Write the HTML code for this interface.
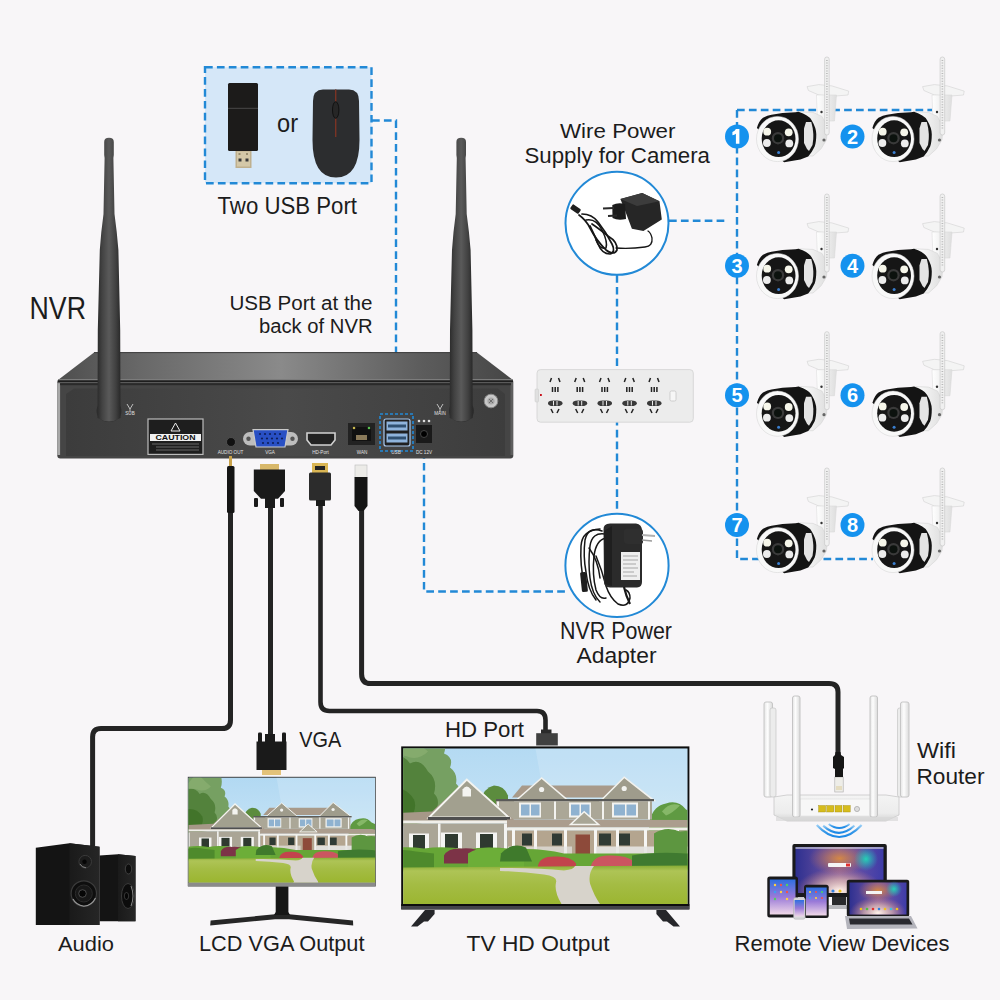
<!DOCTYPE html>
<html><head><meta charset="utf-8"><title>NVR Kit</title>
<style>
html,body{margin:0;padding:0;background:#f8f6f8;}
body{width:1000px;height:1000px;overflow:hidden;}
svg{display:block;}
text{font-family:"Liberation Sans",sans-serif;}
</style></head>
<body>
<svg width="1000" height="1000" viewBox="0 0 1000 1000">
<defs>
  <clipPath id="clipLCD"><rect x="188.6" y="777.8" width="186.5" height="105"/></clipPath>
  <clipPath id="clipTV"><rect x="403.2" y="748.6" width="284.3" height="155.4"/></clipPath>
  <linearGradient id="sky" x1="0" y1="0" x2="0" y2="1">
    <stop offset="0" stop-color="#b0d8f2"/><stop offset="0.3" stop-color="#bcdef4"/><stop offset="0.6" stop-color="#cce5f5"/><stop offset="1" stop-color="#dceaf3"/>
  </linearGradient>
  <linearGradient id="grass" x1="0" y1="0" x2="0" y2="1">
    <stop offset="0" stop-color="#86ac34"/><stop offset="0.1" stop-color="#aec456"/><stop offset="0.35" stop-color="#a4bc44"/><stop offset="0.7" stop-color="#9cb632"/><stop offset="1" stop-color="#a0b838"/>
  </linearGradient>
  <linearGradient id="nvrtop" x1="0" y1="0" x2="1" y2="0">
    <stop offset="0" stop-color="#4e4e4e"/><stop offset="0.18" stop-color="#686868"/><stop offset="0.49" stop-color="#8a8a8a"/><stop offset="0.8" stop-color="#5c5c5c"/><stop offset="1" stop-color="#464646"/>
  </linearGradient>
  <linearGradient id="ant" x1="0" y1="0" x2="1" y2="0">
    <stop offset="0" stop-color="#2c2c2c"/><stop offset="0.2" stop-color="#424242"/><stop offset="0.5" stop-color="#5a5a5a"/><stop offset="0.8" stop-color="#404040"/><stop offset="1" stop-color="#282828"/>
  </linearGradient>
  <linearGradient id="wht" x1="0" y1="0" x2="1" y2="0">
    <stop offset="0" stop-color="#ffffff"/><stop offset="1" stop-color="#dedede"/>
  </linearGradient>
  <linearGradient id="dev" x1="0" y1="0" x2="1" y2="0">
    <stop offset="0" stop-color="#2e3090"/><stop offset="0.5" stop-color="#7a5aa4"/><stop offset="1" stop-color="#3e3ca8"/>
  </linearGradient>
  <radialGradient id="devglow" cx="0.5" cy="0.95" r="0.5">
    <stop offset="0" stop-color="#fff4ec" stop-opacity="1"/><stop offset="0.5" stop-color="#f4c8b0" stop-opacity="0.6"/><stop offset="1" stop-color="#e08070" stop-opacity="0"/>
  </radialGradient>
  <radialGradient id="devwarm" cx="0.5" cy="0.25" r="0.35">
    <stop offset="0" stop-color="#d88a40" stop-opacity="0.95"/><stop offset="1" stop-color="#c07060" stop-opacity="0"/>
  </radialGradient>
  <radialGradient id="devteal" cx="0.5" cy="0.5" r="0.5">
    <stop offset="0" stop-color="#20d8b8" stop-opacity="0.95"/><stop offset="1" stop-color="#20c0c0" stop-opacity="0"/>
  </radialGradient>
  <linearGradient id="tab" x1="0" y1="0" x2="0" y2="1">
    <stop offset="0" stop-color="#2f6fe0"/><stop offset="0.5" stop-color="#9a7ad8"/><stop offset="1" stop-color="#f0d8e8"/>
  </linearGradient>

  <!-- House scene in TV-screen coords (0..283 x 0..154.5), drawn with margins -->
  <g id="scene">
    <rect x="-20" y="-20" width="330" height="185" fill="url(#sky)"/>
    <path d="M128,-20 L310,-20 L310,80 L146,80 Z" fill="#ffffff" opacity="0.16"/>
    <!-- trees left -->
    <path d="M-20,-20 L38,-20 Q44,-8 40,4 Q50,8 46,18 Q54,24 52,34 Q60,42 54,52 L40,70 L-20,80 Z" fill="#76a062"/>
    <path d="M-20,10 Q-4,0 6,14 Q16,8 24,22 Q34,30 30,44 Q38,52 30,64 L-20,70 Z" fill="#53823c"/>
    <path d="M-20,40 Q0,34 10,50 Q14,60 4,72 L-20,74 Z" fill="#42742a"/>
    <path d="M2,-20 Q14,-6 24,2 Q16,10 6,8 Q-4,4 -20,6 Z" fill="#8aae70" opacity="0.8"/>
    <!-- tree behind house -->
    <path d="M76,52 Q80,38 90,36 Q100,36 104,46 L104,56 L76,58 Z" fill="#5c8c3e"/>
    <!-- right trees -->
    <path d="M246,70 Q250,56 262,54 Q274,50 282,60 Q292,64 300,70 L300,120 L240,120 Z" fill="#5f9a42"/>
    <path d="M258,62 Q266,52 276,56 Q268,64 262,66 Z" fill="#86b868"/>
    <!-- second floor / main roof -->
    <path d="M108,48 L118,36 L222,36 L235,48 Z" fill="#a89a8a"/>
    <rect x="92" y="50" width="156" height="20" fill="#aba797"/>
    <path d="M112,51 L137.6,28.5 L164,51 Z" fill="#9f9c8c" stroke="#f2f2ee" stroke-width="1.6" stroke-linejoin="miter"/>
    <path d="M197,51 L220.2,27.7 L250,51 Z" fill="#9f9c8c" stroke="#f2f2ee" stroke-width="1.6"/>
    <rect x="92" y="49.5" width="158" height="2.2" fill="#5a5a58"/>
    <g fill="#f3f3f0">
      <rect x="115" y="53" width="22" height="15"/><rect x="165" y="53" width="22" height="15"/><rect x="208" y="53" width="26" height="15"/>
      <rect x="93" y="52" width="2" height="18"/><rect x="150" y="52" width="2" height="18"/><rect x="198" y="52" width="2" height="18"/><rect x="244" y="52" width="2" height="18"/>
    </g>
    <g fill="#8fb2d0"><rect x="117" y="55" width="8.5" height="11"/><rect x="127" y="55" width="8.5" height="11"/><rect x="167" y="55" width="8.5" height="11"/><rect x="177" y="55" width="8.5" height="11"/><rect x="210" y="55" width="11" height="11"/><rect x="222.5" y="55" width="9.5" height="11"/></g>
    <circle cx="137.6" cy="40" r="2.6" fill="#f3f3f0"/><circle cx="220.2" cy="39" r="2.6" fill="#f3f3f0"/>
    <!-- left wing -->
    <path d="M-20,64 L28,62 L62.8,30.1 L105,66 L112,72 L-20,74 Z" fill="#a69888"/>
    <path d="M24.9,68.1 L62.8,30.1 L105,68.1 Z" fill="#a2a08f" stroke="#f4f4f0" stroke-width="2"/>
    <rect x="24" y="67.5" width="82" height="3" fill="#4f4f4f"/>
    <path d="M58.5,40 Q62.8,34 67,40 L67,47 L58.5,47 Z" fill="#f4f4f0"/>
    <rect x="-20" y="71" width="128" height="3" fill="#f0efea"/>
    <rect x="-20" y="74" width="124" height="28" fill="#aaa596"/>
    <g fill="#f4f4f2"><rect x="5" y="84" width="20" height="17"/><rect x="37" y="83" width="21" height="17"/><rect x="72" y="83" width="21" height="17"/><rect x="-12" y="76" width="2" height="26"/><rect x="34" y="74" width="2.5" height="28"/><rect x="100" y="74" width="3" height="30"/></g>
    <g fill="#2f3a30"><rect x="9" y="85.5" width="12" height="14"/><rect x="41" y="84.5" width="13" height="14"/><rect x="76" y="84.5" width="13" height="14"/></g>
    <!-- porch roof + porch -->
    <path d="M103,70 L283,70.5 L300,74 L300,78 L103,78 Z" fill="#ab9d8e"/>
    <path d="M166.5,75 L180.2,62.3 L194.6,75 Z" fill="#a9a696" stroke="#f4f4f0" stroke-width="1.5"/>
    <rect x="103" y="78" width="197" height="3" fill="#f0efea"/>
    <rect x="104" y="81" width="196" height="29" fill="#b4a58f"/>
    <rect x="171.5" y="85" width="14.5" height="24" fill="#8d4a3a"/>
    <g fill="#2f3a34"><rect x="118" y="84" width="10" height="12"/><rect x="148" y="84" width="10" height="12"/><rect x="195" y="84" width="12" height="12"/><rect x="214" y="84" width="12" height="12"/></g>
    <g fill="#f6f6f4"><rect x="108" y="80" width="3" height="30"/><rect x="130" y="80" width="3" height="30"/><rect x="160" y="80" width="3" height="30"/><rect x="190" y="80" width="3" height="30"/><rect x="212" y="80" width="3" height="30"/><rect x="240" y="80" width="3" height="30"/><rect x="272" y="80" width="3" height="30"/></g>
    <rect x="192" y="97" width="95" height="12" fill="#e6e6e3" opacity="0.9"/>
    <rect x="104" y="97" width="64" height="12" fill="#e6e6e3" opacity="0.7"/>
    <!-- right-side greenery over porch end -->
    <path d="M250,84 Q262,76 276,82 Q290,80 300,88 L300,120 L250,120 Z" fill="#5d9640"/>
    <!-- bushes -->
    <path d="M-20,100 Q0,96 20,99 Q40,96 62,100 Q85,96 110,100 Q135,98 160,104 L300,104 L300,122 L-20,122 Z" fill="#66a636"/>
    <path d="M-20,104 Q-5,98 12,102 L30,104 L30,120 L-20,120 Z" fill="#4e8a2c"/>
    <path d="M40,106 Q44,98 58,99 Q72,98 78,104 L78,114 L40,114 Z" fill="#7c3347"/>
    <path d="M64,104 Q76,96 94,99 Q110,98 120,106 L120,118 L64,118 Z" fill="#6cae38"/>
    <path d="M97,104 Q108,92 122,98 L128,112 L96,112 Z" fill="#3f7a2c"/>
    <path d="M134,116 Q136,107 150,107 Q166,106 172,114 L172,120 L134,120 Z" fill="#c2444c"/>
    <path d="M187,116 Q190,106 204,106 Q222,105 230,112 L230,120 L187,120 Z" fill="#cb5560"/>
    <path d="M228,106 Q250,102 283,104 L300,106 L300,120 L228,120 Z" fill="#3f7a30"/>
    <!-- grass -->
    <path d="M-20,118 L300,116 L300,170 L-20,170 Z" fill="url(#grass)"/>
    <!-- path -->
    <path d="M96,118.5 Q135,118 160,121 Q170,120 171,116.5 L190,116.5 Q184,124 186,134 Q190,146 196,154.5 L198,170 L150,170 L157.5,154.5 Q150,142 152,133 Q154,127 140,125 Q118,122 96,121.5 Z" fill="#d7d3cb"/>
  </g>

  <!-- Camera, origin at front-face centre -->
  <g id="cam">
    <path d="M29.6,-52.4 L41.3,-54.4 L54.3,-53.1 L71.2,-47.9 L70.5,-44 L54.3,-42.7 L41.3,-44 L30.9,-48.5 Z" fill="#f4f4f4" stroke="#d2d2d2" stroke-width="0.6"/>
    <path d="M39,-44 L59,-44 L57,-18 L40,-18 Z" fill="url(#wht)" stroke="#d6d6d6" stroke-width="0.5"/>
    <path d="M21,-27.2 L35.5,-26.6 L44.5,-22.6 L49.9,-11.8 L49,0.8 L43.6,9.8 L35.5,17 L30.1,17 Z" fill="url(#wht)" stroke="#d4d4d4" stroke-width="0.6"/>
    <rect x="47.1" y="-82" width="4.6" height="78" rx="2.2" fill="#f0f0f0" stroke="#c2c2c2" stroke-width="0.6"/>
    <line x1="49.4" y1="-79" x2="49.4" y2="-10" stroke="#b8b8b8" stroke-width="1.6" stroke-dasharray="1 1.6"/>
    <circle cx="46.5" cy="1" r="1.6" fill="#666"/>
    <circle cx="44" cy="-27" r="1.2" fill="#333"/>
    <path d="M-20.6,-11 Q-18.5,-18.5 -14.5,-21.3 Q-10,-24 -6,-24.3 L5,-25.9 L18,-26.8 L21,-27.2 Q31,-24 34,-19 Q38.8,-11 38.8,-4.7 Q38.8,3 37.2,7.6 Q34.5,13.5 30.7,17.4 L22.9,20.6 L6.7,23.3 L0,18 L-15,-6 Z" fill="#141414"/>
    <path d="M28.5,-17 L33.8,-17 Q37.2,-5 35,6 L31.5,12 L29.5,10 L26.5,4 L26.5,-10.5 Z" fill="#e4e4e4"/>
    <ellipse cx="0" cy="0" rx="21" ry="22.6" fill="#f8f8f8" stroke="#d0d0d0" stroke-width="0.5"/>
    <ellipse cx="1.1" cy="-0.35" rx="16.9" ry="18.4" fill="#161616"/>
    <circle cx="-10.3" cy="-7.3" r="3.9" fill="#f6f6ea"/>
    <circle cx="11.2" cy="-6.7" r="3.9" fill="#f6f6ea"/>
    <circle cx="-10.6" cy="4" r="3.9" fill="#ececec"/>
    <circle cx="11.8" cy="4.4" r="3.9" fill="#ececec"/>
    <circle cx="0.5" cy="-0.8" r="6.2" fill="#3a3a3a"/>
    <circle cx="0.5" cy="-0.8" r="4" fill="#0c120e"/>
    <circle cx="1.1" cy="13.5" r="1.5" fill="#3a7fd0"/>
  </g>

  <linearGradient id="rant" x1="0" y1="0" x2="1" y2="0">
    <stop offset="0" stop-color="#e4e4e4"/><stop offset="0.4" stop-color="#fdfdfd"/><stop offset="1" stop-color="#dadada"/>
  </linearGradient>
  <linearGradient id="rbody" x1="0" y1="0" x2="0" y2="1">
    <stop offset="0" stop-color="#f4f4f4"/><stop offset="0.7" stop-color="#ececec"/><stop offset="1" stop-color="#d2d2d2"/>
  </linearGradient>
  <linearGradient id="nvrfront" x1="0" y1="0" x2="1" y2="0">
    <stop offset="0" stop-color="#3c3c3c"/><stop offset="0.5" stop-color="#4a4a4a"/><stop offset="1" stop-color="#3d3d3d"/>
  </linearGradient>
  <linearGradient id="wifig" x1="0" y1="0" x2="0" y2="1">
    <stop offset="0" stop-color="#9cd0f6"/><stop offset="0.5" stop-color="#3a9ae8"/><stop offset="1" stop-color="#1a88e6"/>
  </linearGradient>
  <g id="badge">
    <circle r="12" fill="#1592ee"/>
  </g>
</defs>

<rect width="1000" height="1000" fill="#f8f6f8"/>

<!-- ============ DASHED LINES ============ -->
<g fill="none" stroke="#2289d6" stroke-width="2.4" stroke-dasharray="7.7 4.2">
  <path d="M372,120.5 H396 V414"/>
  <path d="M424,451 V591.5 H568"/>
  <path d="M617,275 V514"/>
  <path d="M669,220.7 H728"/>
  <path d="M737,110 H932"/>
  <path d="M737,110 V559 H873"/>
</g>

<!-- ============ CABLES ============ -->
<g fill="none" stroke="#242424" stroke-width="5" stroke-linejoin="round">
  <path d="M230.5,510 V720 Q230.5,728.6 222,728.6 H101 Q92.6,728.6 92.6,737 V846"/>
  <path d="M270.5,505 V735"/>
  <path d="M320.5,505 V702 Q320.5,711 329.5,711 H537 Q545.5,711 545.5,720 V731" stroke-width="4.6"/>
  <path d="M361.6,505 V674 Q361.6,683.6 370.6,683.6 H829 Q838,683.6 838,692 V756"/>
</g>

<!-- ============ USB BOX ============ -->
<rect x="205" y="67.2" width="166.5" height="116" fill="#d5e7f8" stroke="#2289d6" stroke-width="2.4" stroke-dasharray="7.7 4.2"/>
<!-- usb stick -->
<rect x="235.5" y="150" width="16" height="18" fill="#bfb08e"/>
<rect x="237" y="151.5" width="13" height="15" fill="#d4c8a8"/>
<rect x="238.5" y="158.5" width="3" height="3" fill="#3a3a3a"/><rect x="245.5" y="158.5" width="3" height="3" fill="#3a3a3a"/>
<rect x="238.5" y="153" width="2" height="2" fill="#9a8e70"/><rect x="246" y="153" width="2" height="2" fill="#9a8e70"/>
<rect x="228" y="83" width="30" height="68" rx="1.5" fill="#1c1b1a"/>
<line x1="228" y1="108.3" x2="258" y2="108.3" stroke="#555" stroke-width="0.8"/>
<!-- mouse -->
<path d="M313,101 Q313,90 323,89.6 L349,89.6 Q359,90 359,101 L359.5,140 Q359.5,177.6 336,177.6 Q312.5,177.6 312.5,140 Z" fill="#2c2d2f"/>
<line x1="335.7" y1="89.6" x2="335.7" y2="137" stroke="#7a3324" stroke-width="1.4"/>
<ellipse cx="335.7" cy="110" rx="3.2" ry="8.3" fill="#262626" stroke="#111" stroke-width="1"/>

<!-- ============ NVR ============ -->
<path d="M94,352.6 L477,352.6 L513,380 L58,380 Z" fill="url(#nvrtop)"/>
<path d="M94,352.6 L477,352.6" stroke="#3a3a3a" stroke-width="1"/>
<rect x="57.3" y="379" width="456" height="79.6" rx="3" fill="#454545"/>
<rect x="57.3" y="383" width="2.8" height="72" fill="#a8a8a8"/>
<rect x="510.5" y="383" width="2.5" height="72" fill="#5e5e5e"/>
<path d="M74,388.5 L498,388.5 L505,394 L505,456 L66,456 L66,394 Z" fill="url(#nvrfront)"/>
<rect x="58" y="379.2" width="455" height="1.2" fill="#8a8a8a"/>
<rect x="58" y="380.4" width="455" height="1.8" fill="#1e1e1e"/>
<rect x="58" y="382.2" width="455" height="1" fill="#626262"/>
<rect x="60" y="383.2" width="451" height="2" fill="#2a2a2a"/>
<!-- caution label -->
<rect x="148" y="419" width="55" height="35.4" fill="#1e1e1e" stroke="#bcbcbc" stroke-width="1.2"/>
<rect x="150" y="434" width="51" height="7" fill="#f2f2f2"/>
<text x="175.5" y="440" font-size="6.5" font-weight="bold" text-anchor="middle" fill="#111" textLength="40" lengthAdjust="spacingAndGlyphs">CAUTION</text>
<path d="M175.5,423 L180,431 L171,431 Z" fill="none" stroke="#eee" stroke-width="1"/>
<g stroke="#999" stroke-width="0.6"><line x1="152" y1="444" x2="199" y2="444"/><line x1="156" y1="447" x2="199" y2="447"/><line x1="156" y1="450" x2="199" y2="450"/></g>
<!-- audio -->
<circle cx="231" cy="442" r="4.5" fill="#111" stroke="#555" stroke-width="0.8"/>
<!-- vga -->
<rect x="243" y="432" width="55" height="13.6" rx="6.8" fill="#bdbdbd"/>
<circle cx="248.5" cy="438.8" r="2.2" fill="#555"/><circle cx="292.5" cy="438.8" r="2.2" fill="#555"/>
<path d="M253,429.6 L288,429.6 L285,447 L256,447 Z" fill="#2950c4" stroke="#c9c9c9" stroke-width="1.2"/>
<g fill="#0e1f5a"><circle cx="260" cy="434" r="1.1"/><circle cx="265" cy="434" r="1.1"/><circle cx="270" cy="434" r="1.1"/><circle cx="275" cy="434" r="1.1"/><circle cx="280" cy="434" r="1.1"/>
<circle cx="262" cy="438.5" r="1.1"/><circle cx="267" cy="438.5" r="1.1"/><circle cx="272" cy="438.5" r="1.1"/><circle cx="277" cy="438.5" r="1.1"/><circle cx="282" cy="438.5" r="1.1"/>
<circle cx="263" cy="443" r="1.1"/><circle cx="268" cy="443" r="1.1"/><circle cx="273" cy="443" r="1.1"/><circle cx="278" cy="443" r="1.1"/></g>
<!-- hdmi -->
<path d="M307,433 L335,433 L335,440 L331,445 L311,445 L307,440 Z" fill="#222" stroke="#d2d2d2" stroke-width="1.6"/>
<!-- wan -->
<rect x="348" y="423" width="27" height="22" fill="#222"/>
<rect x="352" y="427" width="19" height="14" fill="#111"/><rect x="356" y="435" width="11" height="5" fill="#8a7a5a"/>
<circle cx="354" cy="428" r="1.3" fill="#c8b850"/><circle cx="369" cy="428" r="1.3" fill="#58c050"/>
<!-- usb -->
<rect x="384" y="419" width="26" height="27" rx="2" fill="#202020" stroke="#aacaf0" stroke-width="1.2"/>
<rect x="386.5" y="421.5" width="21" height="9" fill="#8fb4dc"/><rect x="386.5" y="433.5" width="21" height="9" fill="#8fb4dc"/>
<rect x="388" y="424.5" width="18" height="3" fill="#305070"/><rect x="388" y="436.5" width="18" height="3" fill="#305070"/>
<rect x="380" y="414" width="33" height="37" fill="none" stroke="#2289d6" stroke-width="1.6" stroke-dasharray="3 2"/>
<!-- dc -->
<rect x="416" y="425" width="16" height="18" fill="#1a1a1a"/><circle cx="424" cy="434" r="3.5" fill="#000" stroke="#444" stroke-width="1"/>
<g fill="#ddd"><circle cx="419" cy="421" r="1.3"/><circle cx="424" cy="421" r="1.3"/><circle cx="429" cy="421" r="1.3"/></g>
<!-- screw -->
<circle cx="491" cy="401" r="6.8" fill="#c8c8c8" stroke="#8a8a8a" stroke-width="1"/><circle cx="491" cy="401" r="3.6" fill="#a8a8a8"/><path d="M489,399 L493,403 M493,399 L489,403" stroke="#666" stroke-width="0.9"/>
<!-- port labels -->
<g fill="#e0e0e0" font-size="4.6" text-anchor="middle">
  <text x="230.5" y="453.5">AUDIO OUT</text><text x="270" y="453.5">VGA</text><text x="320.5" y="453.5">HD-Port</text>
  <text x="362" y="453.5">WAN</text><text x="396" y="453.5">USB</text><text x="424" y="453.5">DC 12V</text>
  <text x="130" y="415">SUB</text><text x="440" y="415">MAIN</text>
</g>
<g stroke="#ddd" stroke-width="0.8" fill="none"><path d="M127,404 L130,409 L133,404 M130,409 V412"/><path d="M437,404 L440,409 L443,404 M440,409 V412"/></g>

<!-- antennas -->
<ellipse cx="109" cy="411" rx="12.5" ry="11" fill="#2e2e2e"/>
<path d="M104.2,142 Q104.2,137.8 109,137.8 Q113.8,137.8 113.8,142 L113.8,155 L113.4,158 L114.5,214 Q117,232 118.4,250 L120.2,330 L120.5,418 Q109,425 97.5,418 L97.8,330 L99.8,250 Q101,232 103.5,214 L104.6,158 L104.2,155 Z" fill="url(#ant)"/>
<ellipse cx="461.5" cy="411" rx="12.5" ry="11" fill="#2e2e2e"/>
<path d="M456.4,142 Q456.4,137.8 461.2,137.8 Q466,137.8 466,142 L466,155 L465.6,158 L466.7,214 Q469.2,232 470.6,250 L472.4,330 L472.7,418 Q461.2,425 449.7,418 L450,330 L452,250 Q453.2,232 455.7,214 L456.8,158 L456.4,155 Z" fill="url(#ant)"/>

<!-- ============ CONNECTORS BELOW NVR ============ -->
<!-- audio plug -->
<rect x="229" y="456" width="3" height="10" fill="#c9a24a"/>
<rect x="227" y="466" width="7.5" height="47" rx="1.5" fill="#151515"/>
<!-- vga plug -->
<rect x="260" y="464" width="19" height="6" fill="#d8b86a"/>
<path d="M253.8,469.5 L285,469.5 L285,491 L278,498.8 L261,498.8 L253.8,491 Z" fill="#1a1a1a"/>
<rect x="254" y="498" width="4" height="9" rx="1" fill="#1a1a1a"/><rect x="280" y="498" width="4" height="9" rx="1" fill="#1a1a1a"/>
<rect x="265" y="498" width="10" height="10" fill="#1a1a1a"/>
<!-- hdmi plug -->
<rect x="312" y="463" width="16" height="10" fill="#d9b553"/><rect x="315" y="466" width="10" height="4" fill="#222"/>
<rect x="309" y="472.5" width="22" height="28" rx="1.5" fill="#2c2c2c"/>
<rect x="316" y="500" width="9" height="6" fill="#1a1a1a"/>
<!-- rj45 -->
<rect x="355" y="465" width="12" height="12.5" fill="#ecebe8" stroke="#bbb" stroke-width="0.6"/>
<path d="M354.5,477 L367.5,477 L367.5,506 L363.5,511 L358.5,511 L354.5,506 Z" fill="#151515"/>

<!-- VGA plug at monitor -->
<rect x="258" y="732.5" width="4" height="12" rx="1.2" fill="#1a1a1a"/><rect x="282" y="732.5" width="4" height="12" rx="1.2" fill="#1a1a1a"/>
<rect x="265" y="734" width="10" height="8" fill="#1a1a1a"/>
<path d="M256.5,741.5 L286.5,741.5 L286.5,770 L256.5,770 Z" fill="#1a1a1a"/>
<rect x="262" y="770" width="19" height="5" fill="#e2c27a"/>
<!-- HDMI plug at TV -->
<rect x="541" y="729.5" width="10.5" height="4.5" fill="#2a2a2a"/>
<rect x="536.2" y="733.2" width="21.6" height="12.3" fill="#404040"/>

<!-- ============ CAMERAS ============ -->
<use href="#cam" x="777.5" y="139"/>
<use href="#cam" x="893" y="139"/>
<use href="#cam" x="777.5" y="276"/>
<use href="#cam" x="893" y="276"/>
<use href="#cam" x="777.5" y="413.7"/>
<use href="#cam" x="893" y="413.7"/>
<use href="#cam" x="777.5" y="550"/>
<use href="#cam" x="893" y="550"/>
<g font-size="20" font-weight="bold" fill="#fff" text-anchor="middle">
  <circle cx="737" cy="136.5" r="12" fill="#1592ee"/><path d="M735.9,129 L739.4,129 L739.4,143.8 L735.9,143.8 L735.9,133.8 Q734.4,135 732.4,135.3 L732.4,132 Q735,131.2 735.9,129 Z" fill="#fff"/>
  <circle cx="852.5" cy="136.5" r="12" fill="#1592ee"/><text x="852.5" y="143.7">2</text>
  <circle cx="737" cy="265.8" r="12" fill="#1592ee"/><text x="737" y="273">3</text>
  <circle cx="852.5" cy="265.8" r="12" fill="#1592ee"/><text x="852.5" y="273">4</text>
  <circle cx="737" cy="395.2" r="12" fill="#1592ee"/><text x="737" y="402.4">5</text>
  <circle cx="852.5" cy="395.2" r="12" fill="#1592ee"/><text x="852.5" y="402.4">6</text>
  <circle cx="737" cy="525" r="12" fill="#1592ee"/><text x="737" y="532.2">7</text>
  <circle cx="852.5" cy="525" r="12" fill="#1592ee"/><text x="852.5" y="532.2">8</text>
</g>

<!-- ============ CAMERA POWER SUPPLY ============ -->
<circle cx="617" cy="223.3" r="51.5" fill="#fff" stroke="#2289d6" stroke-width="2"/>
<g fill="none" stroke="#161616" stroke-linecap="round">
  <path d="M579,215 Q586,220 590,228 Q596,240 606,250 Q614,256 617,250 Q618,242 608,236 Q598,228 592,224" stroke-width="1.7"/>
  <path d="M582,214 Q592,214 598,222 Q606,232 612,244 Q616,252 610,254 Q602,254 598,244 Q594,234 590,226" stroke-width="1.7"/>
  <path d="M586,220 Q596,218 602,230 Q608,242 606,248 Q600,250 596,240" stroke-width="1.5"/>
  <path d="M616,248 Q630,249 645,247 Q653,246 652,238 Q651,233 648,231" stroke-width="1.3"/>
</g>
<rect x="570.5" y="206" width="10" height="5.5" rx="1.2" fill="#1e1e1e" transform="rotate(35 575 209)"/>
<path d="M620.4,199 L642.2,193.1 L659.5,201.2 L661.8,219.6 L643.4,231.1 L631.9,228.8 L625,210.4 Z" fill="#262626"/>
<path d="M620.4,199 L642.2,193.1 L659.5,201.2 L637,206 Z" fill="#3c3c3c"/>
<path d="M612.3,205 Q618,202 625,204 L626,219 Q618,221 612.5,218 Z" fill="#1c1c1c"/>
<line x1="603" y1="208.5" x2="614" y2="208" stroke="#2a2a2a" stroke-width="2"/>
<line x1="608" y1="216" x2="617" y2="215.5" stroke="#2a2a2a" stroke-width="2"/>

<!-- ============ POWER STRIP ============ -->
<rect x="537" y="369.6" width="156.3" height="52.6" rx="3.5" fill="#ececec" stroke="#d2d2d2" stroke-width="0.8"/>
<rect x="535" y="389" width="3.5" height="13" rx="1" fill="#e0e0e0" stroke="#c8c8c8" stroke-width="0.5"/>
<rect x="670" y="391" width="6" height="10" rx="1.5" fill="#f6f6f6" stroke="#bbb" stroke-width="0.6"/>
<rect x="540" y="394" width="1.8" height="2" fill="#c8101a"/>
<g id="sock" stroke="#222" stroke-width="1.5" fill="none">
  <path d="M551.5,378 L550,382 M558.5,378 L560,382"/>
  <path d="M552.5,387 V392 M555.2,387 V392 M557.9,387 V392"/>
  <path d="M548,403.2 Q548,400.5 553,400.5 L557,400.5 Q562.5,400.5 562.5,403.2 Q562.5,406 557,406 L553,406 Q548,406 548,403.2 Z" fill="#3a3a3a" stroke="none"/>
  <path d="M553.5,401 V405.5 M557,401 V405.5" stroke="#eee" stroke-width="1"/>
  <path d="M551,409 L553,413 M559,409 L557,413"/>
</g>
<use href="#sock" x="24.7"/><use href="#sock" x="49.5"/><use href="#sock" x="74.3"/><use href="#sock" x="99"/>

<!-- ============ NVR POWER ADAPTER ============ -->
<circle cx="617" cy="565.4" r="51.6" fill="#fff" stroke="#2289d6" stroke-width="2"/>
<g fill="none" stroke="#161616" stroke-linecap="round" stroke-width="1.5">
  <path d="M602,531 Q588,526 585,540 Q583,556 586,572 Q588,590 596,600"/>
  <path d="M605,534 Q592,532 590,546 Q588,562 590,578 Q592,594 600,602"/>
  <path d="M600,529 Q582,530 581,546 Q580,566 584,582"/>
  <path d="M606,538 Q596,540 594,556 Q592,575 596,590 Q600,600 606,598"/>
  <path d="M596,556 Q602,570 606,586 Q610,598 618,604 Q628,608 630,598 Q630,592 626,590"/>
  <path d="M589,548 Q598,560 600,578"/>
</g>
<rect x="581" y="572" width="6" height="20" rx="1.5" fill="#1e1e1e" transform="rotate(-6 584 582)"/>
<path d="M603.5,530 Q603,523.5 610,523.5 L636,523.5 Q642,524 642,531 L642,582 Q642,587 637,587.5 L610,587.5 Q604,587 604,582 Z" fill="#2b2b2b"/>
<path d="M604,531 L612,526 L612,586 L605,584 Z" fill="#1f1f1f"/>
<rect x="621" y="552" width="19" height="28" fill="#efefef"/>
<g stroke="#8a8a8a" stroke-width="0.7"><line x1="623" y1="556" x2="638" y2="556"/><line x1="623" y1="560" x2="638" y2="560"/><line x1="623" y1="564" x2="636" y2="564"/><line x1="623" y1="568" x2="638" y2="568"/><line x1="623" y1="572" x2="634" y2="572"/><line x1="623" y1="576" x2="637" y2="576"/></g>
<path d="M624,531 Q624,528.5 628,528.5 L640,528.5 Q643,529 643,532 L643,542 Q643,544 640,544 L628,544 Q624,544 624,541 Z" fill="#2f2f2f"/>
<line x1="642" y1="535" x2="655" y2="536" stroke="#b0b0b0" stroke-width="1.8"/>
<line x1="642" y1="540" x2="652" y2="541" stroke="#9a9a9a" stroke-width="1.5"/>
<path d="M624,587 Q626,596 630,604" fill="none" stroke="#1a1a1a" stroke-width="2.2"/>

<!-- ============ ROUTER ============ -->
<g>
  <rect x="764" y="702" width="8.5" height="95" rx="2" fill="url(#rant)" stroke="#c2c2c2" stroke-width="0.9"/>
  <rect x="770" y="708" width="6" height="89" rx="2" fill="#ececec" stroke="#c6c6c6" stroke-width="0.7"/>
  <rect x="897.5" y="708" width="6" height="89" rx="2" fill="#ececec" stroke="#c6c6c6" stroke-width="0.7"/>
  <rect x="900.5" y="702" width="8.5" height="95" rx="2" fill="url(#rant)" stroke="#c2c2c2" stroke-width="0.9"/>
  <path d="M774,797 L787,795 L886,795 L899,797 L899,815 L886,821 L787,821 L774,815 Z" fill="url(#rbody)" stroke="#c8c8c8" stroke-width="0.8"/>
  <rect x="800" y="799" width="72" height="17" fill="#f7f7f7" stroke="#d8d8d8" stroke-width="0.5"/>
  <rect x="792.5" y="696" width="7.5" height="121" rx="2" fill="url(#rant)" stroke="#c0c0c0" stroke-width="0.9"/>
  <rect x="870" y="696" width="7.5" height="121" rx="2" fill="url(#rant)" stroke="#c0c0c0" stroke-width="0.9"/>
  <g fill="#d6bc1c" stroke="#a08a10" stroke-width="0.4"><rect x="818.6" y="805.5" width="7" height="6.5"/><rect x="826.8" y="805.5" width="7" height="6.5"/><rect x="835" y="805.5" width="7" height="6.5"/><rect x="843.2" y="805.5" width="7" height="6.5"/></g>
  <circle cx="812" cy="809.5" r="1.1" fill="#222"/><circle cx="857" cy="809" r="2.6" fill="#ddd" stroke="#999" stroke-width="0.6"/>
  <rect x="776" y="817" width="122" height="4" fill="#d9d9d9" opacity="0.7"/>
</g>
<!-- rj45 at router -->
<rect x="834.8" y="777" width="8.4" height="15" fill="#eeede8" stroke="#aaa" stroke-width="0.6"/>
<g stroke="#c8a848" stroke-width="0.5"><line x1="836" y1="787" x2="842" y2="787"/><line x1="836" y1="789" x2="842" y2="789"/></g>
<path d="M835.5,752 L840.5,752 L841,755 L844,757 L844,768 L843,769 L843,777 L835,777 L835,769 L833,768 L833,757 L835,755 Z" fill="#161616"/>
<!-- wifi arcs -->
<g fill="none" stroke="url(#wifig)" stroke-linecap="butt">
  <path d="M816.8,825 Q839.2,849 861.6,825" stroke-width="2.2"/>
  <path d="M823.2,825.6 Q839.2,840 854.4,825.6" stroke-width="2.1"/>
  <path d="M828.8,824 Q839.2,832 849.6,824" stroke-width="2"/>
</g>

<!-- ============ DEVICES ============ -->
<g>
  <rect x="832" y="896" width="14" height="10" fill="#2a2a2c"/>
  <rect x="826" y="905" width="28" height="4" rx="1" fill="#b8b8bc"/>
  <rect x="792.4" y="844" width="94.4" height="53" rx="2" fill="#1a1a1c"/>
  <rect x="795.5" y="847" width="88" height="46" fill="url(#dev)"/>
  <rect x="795.5" y="847" width="88" height="46" fill="url(#devwarm)"/>
  <rect x="795.5" y="847" width="88" height="46" fill="url(#devglow)"/>
  <circle cx="866" cy="859" r="12" fill="url(#devteal)"/>
  <g><circle cx="826" cy="891" r="1.6" fill="#e03030"/><circle cx="833" cy="891" r="1.6" fill="#3080e0"/><circle cx="840" cy="891" r="1.6" fill="#f0c020"/><circle cx="819" cy="891" r="1.6" fill="#50c040"/></g>
  <rect x="795.5" y="847" width="88" height="2" fill="#d8d8e0" opacity="0.6"/>
  <rect x="828" y="863" width="23" height="4" rx="1" fill="#f4f4f4"/><rect x="846" y="863.5" width="4" height="3" fill="#e03030"/>
  <!-- tablet -->
  <rect x="767.3" y="876.5" width="30.7" height="41" rx="2.5" fill="#1a1a1c"/>
  <rect x="769.8" y="879.5" width="25.7" height="35" fill="url(#tab)"/>
  <g fill="#ffd040"><circle cx="775" cy="885" r="1.2"/><circle cx="781" cy="885" r="1.2" fill="#f05050"/><circle cx="787" cy="885" r="1.2" fill="#50d060"/><circle cx="775" cy="892" r="1.2" fill="#40a0f0"/><circle cx="781" cy="892" r="1.2"/><circle cx="787" cy="892" r="1.2" fill="#f05050"/><circle cx="775" cy="899" r="1.2" fill="#50d060"/><circle cx="787" cy="899" r="1.2"/></g>
  <!-- tablet 2 -->
  <rect x="804" y="884.8" width="24.7" height="33.2" rx="2.5" fill="#1a1a1c"/>
  <rect x="806" y="887.5" width="20.7" height="28" fill="url(#tab)"/>
  <g fill="#ffd040"><circle cx="810" cy="892" r="1.1"/><circle cx="816" cy="892" r="1.1" fill="#f05050"/><circle cx="822" cy="892" r="1.1" fill="#50d060"/><circle cx="810" cy="898" r="1.1" fill="#40a0f0"/><circle cx="816" cy="898" r="1.1"/><circle cx="822" cy="898" r="1.1" fill="#f05050"/></g>
  <!-- phone -->
  <rect x="793.5" y="897.6" width="11.7" height="21.6" rx="2" fill="#d6d6da" stroke="#999" stroke-width="0.4"/>
  <rect x="794.6" y="900" width="9.5" height="16.5" fill="url(#tab)"/>
  <!-- laptop -->
  <rect x="846.8" y="879.7" width="62.4" height="37" rx="2" fill="#1a1a1c"/>
  <rect x="849.5" y="882.5" width="57" height="32" fill="url(#dev)"/>
  <rect x="849.5" y="882.5" width="57" height="32" fill="url(#devwarm)"/>
  <rect x="849.5" y="882.5" width="57" height="32" fill="url(#devglow)"/>
  <circle cx="894" cy="889" r="8" fill="url(#devteal)"/>
  <g><circle cx="861" cy="909" r="1.3" fill="#f0c020"/><circle cx="867" cy="909" r="1.3" fill="#50c040"/><circle cx="873" cy="909" r="1.3" fill="#e03030"/><circle cx="879" cy="909" r="1.3" fill="#3080e0"/><circle cx="885" cy="909" r="1.3" fill="#f0c020"/><circle cx="891" cy="909" r="1.3" fill="#40c0e0"/><circle cx="897" cy="909" r="1.3" fill="#f0c020"/></g>
  <rect x="866" y="891" width="16" height="3" fill="#f4f4f4"/>
  <path d="M845,916 L911,916 L917.5,928.5 L847,929 Z" fill="#b4b4bc"/>
  <path d="M849,918.5 L909,918.5 L912.5,924.5 L850,924.5 Z" fill="#2a2a30"/>
</g>

<!-- ============ SPEAKERS ============ -->
<defs>
  <linearGradient id="spk" x1="0" y1="0" x2="1" y2="0"><stop offset="0" stop-color="#1a1a1a"/><stop offset="1" stop-color="#262626"/></linearGradient>
</defs>
<g>
  <path d="M99.5,855.5 L118,854.3 L135.5,856 L135.5,921.3 L99.5,921.3 Z" fill="#141414"/>
  <path d="M118,854.3 L135.5,856 L135.5,921.3 L118,921.3 Z" fill="url(#spk)"/>
  <ellipse cx="128" cy="896" rx="6.5" ry="12.5" fill="#0c0c0c" stroke="#3a3a3a" stroke-width="1"/>
  <path d="M131,886 Q135,896 131,906" fill="none" stroke="#8a8a8a" stroke-width="1"/>
  <ellipse cx="126.5" cy="896" rx="2.2" ry="3.5" fill="#050505" stroke="#555" stroke-width="0.6"/>
  <ellipse cx="128.5" cy="869" rx="3.2" ry="5" fill="#0c0c0c" stroke="#4a4a4a" stroke-width="0.8"/>
  <path d="M35.8,847.7 L69.5,843.2 L99.5,846.7 L99.5,925 L35.8,925 Z" fill="#141414"/>
  <path d="M69.5,843.2 L99.5,846.7 L99.5,925 L69.5,925 Z" fill="url(#spk)"/>
  <circle cx="83.8" cy="893.5" r="12.7" fill="#0e0e0e" stroke="#3c3c3c" stroke-width="1.2"/>
  <path d="M73,899 Q76,905 83.8,906.2 Q92,905.5 95.5,898" fill="none" stroke="#9a9a9a" stroke-width="1.1"/>
  <circle cx="83.8" cy="893.5" r="8.5" fill="#181818" stroke="#2c2c2c" stroke-width="1"/>
  <circle cx="82.5" cy="893.5" r="3.8" fill="#060606" stroke="#5a5a5a" stroke-width="0.8"/>
  <circle cx="85.2" cy="861.7" r="6.3" fill="#1c1c1c" stroke="#3a3a3a" stroke-width="1"/>
  <path d="M80,864 Q82,867.5 86,867.8" fill="none" stroke="#8a8a8a" stroke-width="0.9"/>
  <circle cx="84.5" cy="861.7" r="2.2" fill="#050505"/>
</g>

<!-- ============ LCD MONITOR ============ -->
<g>
  <path d="M210.2,925.4 L210.6,920.6 L274.8,914.3 L289.3,914.3 L353,920.6 L353.2,925.4 L289,919.2 L275,919.2 Z" fill="#262626"/>
  <path d="M275.7,884 L288.4,884 L288.4,912 L290,915 L274,915 L275.7,912 Z" fill="#161616"/>
  <rect x="187.8" y="776.8" width="188" height="109.5" fill="#3a3a3a"/>
  <g clip-path="url(#clipLCD)"><use href="#scene" transform="translate(195.9 785.2) scale(0.623)"/></g>
  <rect x="188" y="882.7" width="187.6" height="3.9" fill="#8a8a8a"/>
</g>

<!-- ============ TV ============ -->
<g>
  <path d="M411,926.5 L425,910 L434.6,910 L434.6,914 L428,921.5 L424,921.5 L417.5,926.5 Z" fill="#26262a"/>
  <path d="M680,926.5 L666,910 L656.4,910 L656.4,914 L663,921.5 L667,921.5 L673.5,926.5 Z" fill="#26262a"/>
  <rect x="401.2" y="746.4" width="288.2" height="163" fill="#0e0e0e"/>
  <g clip-path="url(#clipTV)"><use href="#scene" transform="translate(404 749.5)"/></g>
  <rect x="401.2" y="904" width="288.2" height="2.2" fill="#0e0e0e"/>
  <rect x="401.2" y="906" width="288.2" height="3.4" fill="#44444a"/>
</g>

<!-- ============ TEXT ============ -->
<g fill="#1c1c1c">
  <text x="29.5" y="319" font-size="31.6" textLength="56.5" lengthAdjust="spacingAndGlyphs">NVR</text>
  <text x="217.5" y="214.4" font-size="23" textLength="139.5" lengthAdjust="spacingAndGlyphs">Two USB Port</text>
  <text x="277" y="132" font-size="26" textLength="21" lengthAdjust="spacingAndGlyphs">or</text>
  <text x="229.5" y="309.8" font-size="20" textLength="143" lengthAdjust="spacingAndGlyphs">USB Port at the</text>
  <text x="259" y="332.7" font-size="20" textLength="113.5" lengthAdjust="spacingAndGlyphs">back of NVR</text>
  <text x="560" y="138" font-size="21" textLength="115.5" lengthAdjust="spacingAndGlyphs">Wire Power</text>
  <text x="524.5" y="163.2" font-size="21.5" textLength="185.5" lengthAdjust="spacingAndGlyphs">Supply for Camera</text>
  <text x="560" y="638.6" font-size="23" textLength="112" lengthAdjust="spacingAndGlyphs">NVR Power</text>
  <text x="576.5" y="663.4" font-size="21.5" textLength="80" lengthAdjust="spacingAndGlyphs">Adapter</text>
  <text x="299.3" y="746.8" font-size="22" textLength="42" lengthAdjust="spacingAndGlyphs">VGA</text>
  <text x="445" y="736.6" font-size="21.5" textLength="79" lengthAdjust="spacingAndGlyphs">HD Port</text>
  <text x="917" y="757.6" font-size="21.8" textLength="39" lengthAdjust="spacingAndGlyphs">Wifi</text>
  <text x="916.5" y="783.8" font-size="22" textLength="68" lengthAdjust="spacingAndGlyphs">Router</text>
  <text x="58" y="950.5" font-size="21" textLength="56" lengthAdjust="spacingAndGlyphs">Audio</text>
  <text x="199" y="950.8" font-size="22" textLength="165.5" lengthAdjust="spacingAndGlyphs">LCD VGA Output</text>
  <text x="466.5" y="950.5" font-size="21.5" textLength="143" lengthAdjust="spacingAndGlyphs">TV HD Output</text>
  <text x="734.5" y="951.2" font-size="21.5" textLength="215" lengthAdjust="spacingAndGlyphs">Remote View Devices</text>
</g>
</svg>
</body></html>
